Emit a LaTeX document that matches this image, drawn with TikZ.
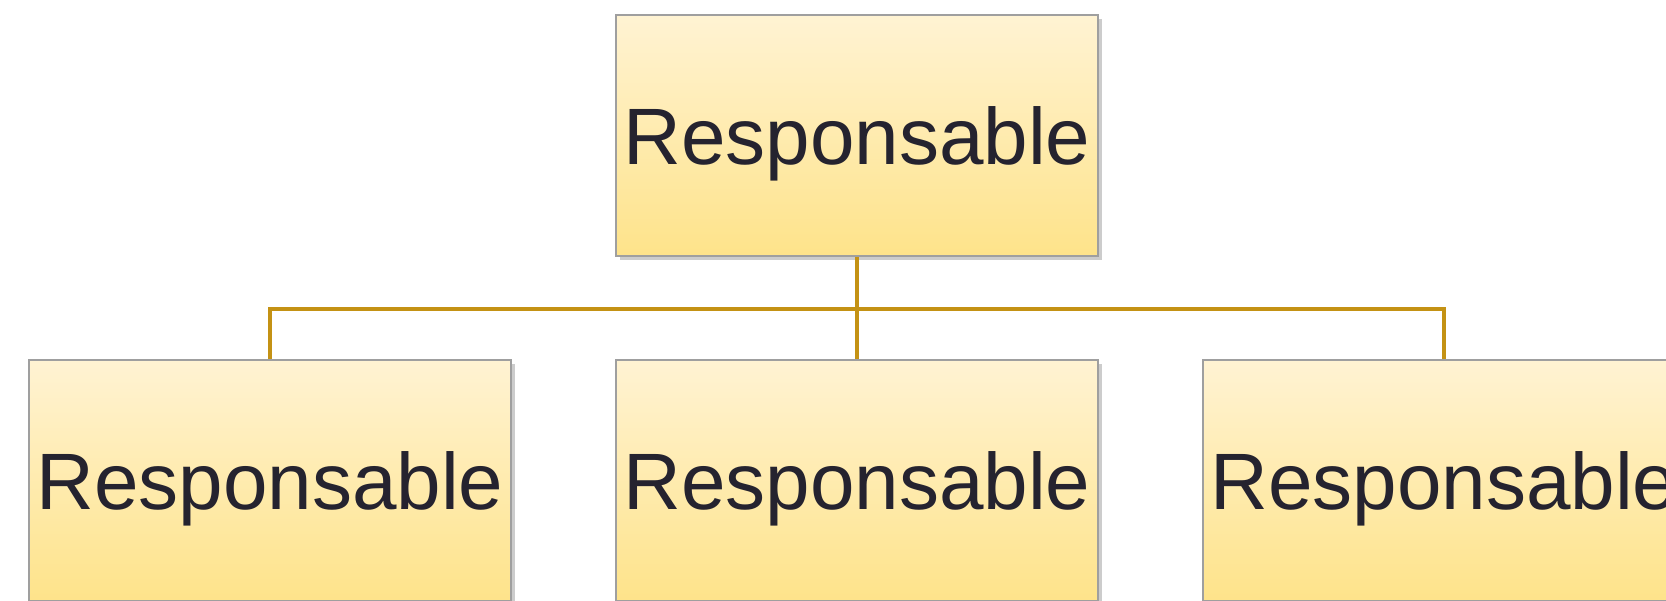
\documentclass[tikz,border=0pt]{standalone}
\usepackage{fontspec}
\setmainfont{Liberation Sans}
\usetikzlibrary{positioning,shadows}
\definecolor{jauneclair}{HTML}{FFF3D3}
\definecolor{jaunefonce}{HTML}{FEE38A}
\definecolor{ocre}{HTML}{C49214}
\definecolor{encre}{HTML}{25232F}
\begin{document}
\begin{tikzpicture}[node distance=51.5pt]
  \tikzstyle{boite}=[rectangle,draw=gray!75,line width=1pt,top color=jauneclair,bottom color=jaunefonce,
    drop shadow={shadow xshift=2pt,shadow yshift=-2pt,opacity=0.4,fill=gray},
    text=encre,font=\fontsize{40}{48}\selectfont,text depth=0pt,inner sep=0pt,
    minimum width=241pt,minimum height=120.5pt]
  \tikzstyle{lien}=[draw=ocre,line width=2.3pt]

    \clip (0,0) rectangle (833pt,-300pt);

    \node [boite] (chef) at (428.5pt,-67.75pt) {Responsable};

    \node [boite] (milieu) [below=51pt of chef] {Responsable};
    \node [boite] (gauche) [left=51.5pt of milieu] {Responsable};
    \node [boite] (droite) [right=51.5pt of milieu] {Responsable};

    \coordinate [below=26pt of chef.south] (noeud);
    \draw [lien] (chef.south) -- (milieu.north);
    \draw [lien] (noeud) -| (gauche.north);
    \draw [lien] (noeud) -| (droite.north); %branches
\end{tikzpicture}
\end{document}
